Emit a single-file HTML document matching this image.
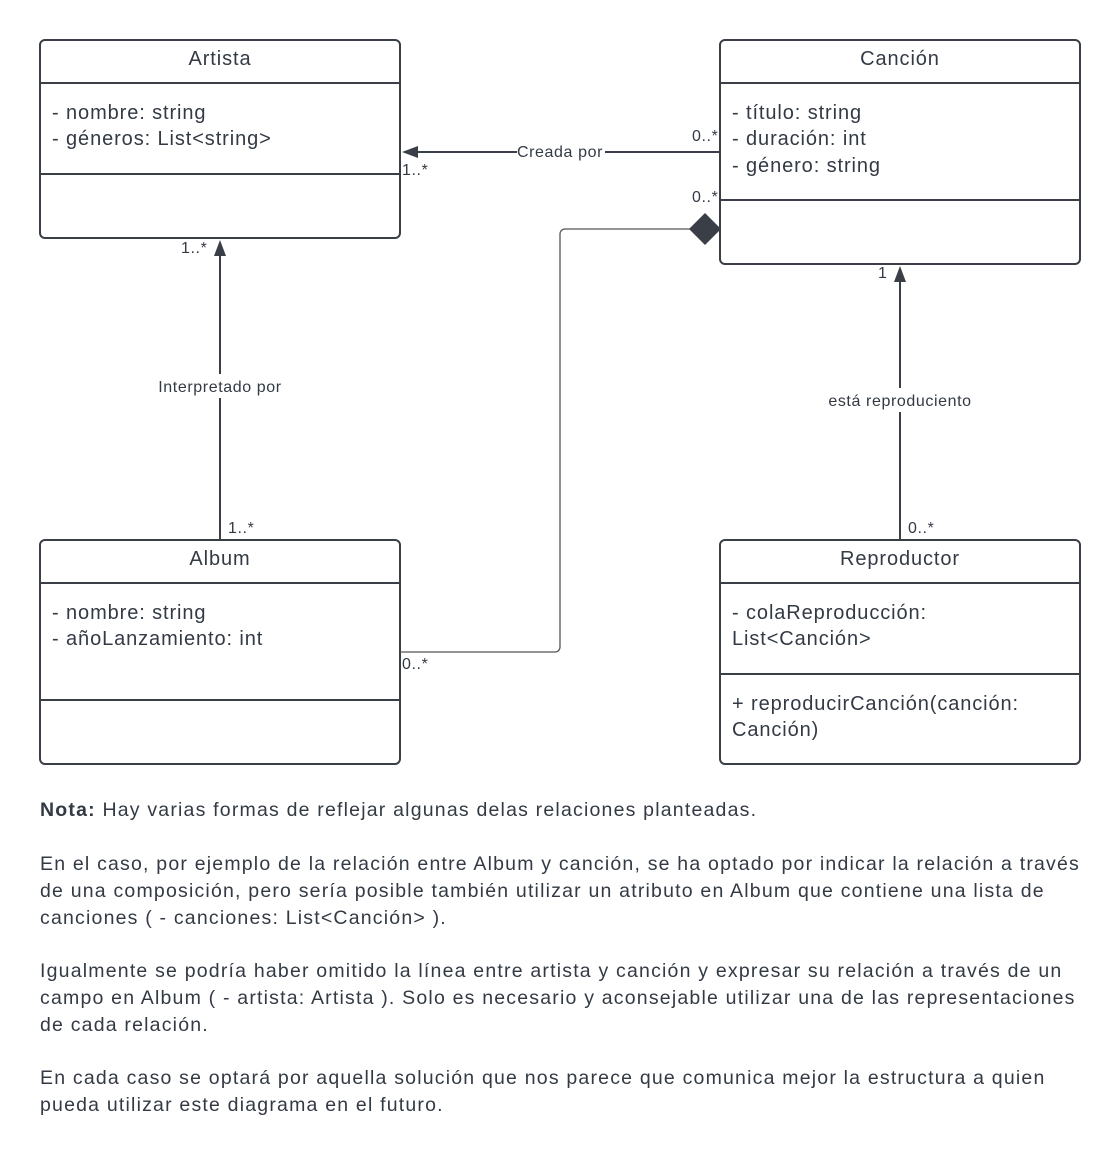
<!DOCTYPE html>
<html><head><meta charset="utf-8"><style>
body{margin:0;background:#fff;width:1120px;height:1160px;overflow:hidden}
svg text{font-family:"Liberation Sans",sans-serif;fill:#333a44}
.big{letter-spacing:0.9px}
.sm{letter-spacing:0.6px}
.note{position:absolute;left:40px;width:1050px;font-family:"Liberation Sans",sans-serif;font-size:19.5px;letter-spacing:1.2px;line-height:27px;color:#333a44}
</style></head><body>
<svg width="1120" height="780" style="position:absolute;left:0;top:0">
<g fill="#fff" stroke="#3a3f47" stroke-width="2">
<rect x="40" y="40" width="360" height="198" rx="5"/>
<line x1="40" y1="83" x2="400" y2="83"/><line x1="40" y1="174" x2="400" y2="174"/>
<rect x="720" y="40" width="360" height="224" rx="5"/>
<line x1="720" y1="83" x2="1080" y2="83"/><line x1="720" y1="200" x2="1080" y2="200"/>
<rect x="40" y="540" width="360" height="224" rx="5"/>
<line x1="40" y1="583" x2="400" y2="583"/><line x1="40" y1="700" x2="400" y2="700"/>
<rect x="720" y="540" width="360" height="224" rx="5"/>
<line x1="720" y1="583" x2="1080" y2="583"/><line x1="720" y1="674" x2="1080" y2="674"/>
</g>
<g stroke="#3a3f47" stroke-width="2" fill="none">
<line x1="416" y1="152" x2="720" y2="152"/>
<line x1="220" y1="254" x2="220" y2="540"/>
<line x1="900" y1="280" x2="900" y2="540"/>
</g>
<path d="M400 652 H555 a5 5 0 0 0 5 -5 V234 a5 5 0 0 1 5 -5 H690" stroke="#555" stroke-width="1.3" fill="none"/>
<g fill="#3a3f47">
<polygon points="402,152 418,146 418,158"/>
<polygon points="220,240 214,256 226,256"/>
<polygon points="900,266 894,282 906,282"/>
<polygon points="705,213 721,229 705,245 689,229"/>
</g>
<rect x="517" y="140" width="88" height="22" fill="#fff"/>
<rect x="156" y="374" width="128" height="24" fill="#fff"/>
<rect x="826" y="388" width="148" height="24" fill="#fff"/>
<g font-size="20" class="big">
<text x="220" y="65" text-anchor="middle">Artista</text>
<text x="900" y="65" text-anchor="middle">Canción</text>
<text x="220" y="565" text-anchor="middle">Album</text>
<text x="900" y="565" text-anchor="middle">Reproductor</text>
<text x="52" y="119">- nombre: string</text>
<text x="52" y="145">- géneros: List&lt;string&gt;</text>
<text x="732" y="119">- título: string</text>
<text x="732" y="145">- duración: int</text>
<text x="732" y="172">- género: string</text>
<text x="52" y="619">- nombre: string</text>
<text x="52" y="645">- añoLanzamiento: int</text>
<text x="732" y="619">- colaReproducción:</text>
<text x="732" y="645">List&lt;Canción&gt;</text>
<text x="732" y="710">+ reproducirCanción(canción:</text>
<text x="732" y="736">Canción)</text>
</g>
<g font-size="16" class="sm">
<text x="560" y="157" text-anchor="middle">Creada por</text>
<text x="220" y="392" text-anchor="middle">Interpretado por</text>
<text x="900" y="406" text-anchor="middle">está reproduciento</text>
<text x="402" y="175">1..*</text>
<text x="692" y="141">0..*</text>
<text x="692" y="202">0..*</text>
<text x="181" y="253">1..*</text>
<text x="228" y="533">1..*</text>
<text x="402" y="669">0..*</text>
<text x="878" y="278">1</text>
<text x="908" y="533">0..*</text>
</g>
</svg>
<div class="note" style="top:797px"><b>Nota:</b> Hay varias formas de reflejar algunas delas relaciones planteadas.</div>
<div class="note" style="top:851px">En el caso, por ejemplo de la relación entre Album y canción, se ha optado por indicar la relación a través de una composición, pero sería posible también utilizar un atributo en Album que contiene una lista de canciones ( - canciones: List&lt;Canción&gt; ).</div>
<div class="note" style="top:958px">Igualmente se podría haber omitido la línea entre artista y canción y expresar su relación a través de un campo en Album ( - artista: Artista ). Solo es necesario y aconsejable utilizar una de las representaciones de cada relación.</div>
<div class="note" style="top:1065px">En cada caso se optará por aquella solución que nos parece que comunica mejor la estructura a quien pueda utilizar este diagrama en el futuro.</div>
</body></html>
